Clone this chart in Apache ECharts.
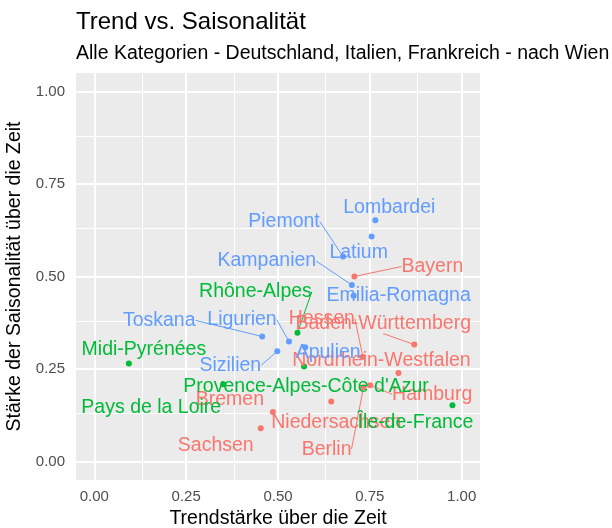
<!DOCTYPE html>
<html>
<head>
<meta charset="utf-8">
<script src="https://cdn.jsdelivr.net/npm/echarts@6/dist/echarts.min.js"></script>
<style>
  html, body { margin: 0; padding: 0; background: #fff; }
  #chart { width: 612px; height: 528px; }
</style>
</head>
<body>
<div id="chart"></div>
<script>
// Daten: Trendstärke (x) und Saisonalitätsstärke (y) je Region
const deRegions = ['Bayern', 'Hessen', 'Baden-Württemberg', 'Nordrhein-Westfalen', 'Hamburg', 'Berlin', 'Niedersachsen', 'Bremen', 'Sachsen'];
const deTrend   = [0.708, 0.731, 0.871, 0.828, 0.751, 0.733, 0.645, 0.486, 0.453];
const deSeason  = [0.500, 0.283, 0.316, 0.239, 0.206, 0.201, 0.162, 0.134, 0.090];

const frRegions = ['Rhône-Alpes', 'Midi-Pyrénées', "Provence-Alpes-Côte d'Azur", 'Pays de la Loire', 'Île-de-France'];
const frTrend   = [0.553, 0.094, 0.571, 0.351, 0.975];
const frSeason  = [0.348, 0.265, 0.257, 0.209, 0.152];

const itRegions = ['Lombardei', 'Latium', 'Piemont', 'Kampanien', 'Emilia-Romagna', 'Toskana', 'Ligurien', 'Apulien', 'Sizilien'];
const itTrend   = [0.765, 0.755, 0.677, 0.701, 0.706, 0.457, 0.530, 0.574, 0.498];
const itSeason  = [0.652, 0.608, 0.554, 0.477, 0.448, 0.338, 0.324, 0.309, 0.298];

const majorTicks = [0, 0.25, 0.5, 0.75, 1];
const minorTicks = [0.125, 0.375, 0.625, 0.875];

// Labelpositionen (wie ggrepel): Versatz in px vom Punkt, mit/ohne Linie
const labelPos = {
  'Lombardei': [14, -13, false],
  'Latium': [-13, 16, false],
  'Piemont': [-59, -35, true],
  'Kampanien': [-85, -24, true],
  'Emilia-Romagna': [45, 0, false],
  'Toskana': [-103, -16, true],
  'Ligurien': [-47, -22, true],
  'Apulien': [23, 5, false],
  'Sizilien': [-47, 14, true],
  'Rhône-Alpes': [-42, -41, true],
  'Midi-Pyrénées': [15, -14, false],
  "Provence-Alpes-Côte d'Azur": [2, 20, false],
  'Pays de la Loire': [-72, 23, false],
  'Île-de-France': [-37, 17, false],
  'Bayern': [78, -10, true],
  'Hessen': [-41, -38, true],
  'Baden-Württemberg': [-31, -21, true],
  'Nordrhein-Westfalen': [-17, -12, false],
  'Hamburg': [62, 9, true],
  'Berlin': [-37, 62, true],
  'Niedersachsen': [5, 21, false],
  'Bremen': [-43, -12, false],
  'Sachsen': [-45, 17, false]
};

const FONT = "'Liberation Sans', Arial, sans-serif";

function makeSeries(name, color, regions, trend, season) {
  return {
    name: name,
    type: 'scatter',
    symbolSize: 6,
    itemStyle: { color: color, opacity: 1 },
    z: 3,
    label: {
      show: true,
      position: 'inside',
      formatter: '{b}',
      color: color,
      fontSize: 19.5,
      fontFamily: FONT
    },
    labelLine: { show: false, lineStyle: { color: color, width: 1 } },
    labelLayout: function (params) {
      const p = labelPos[regions[params.dataIndex]];
      return { dx: p[0], dy: p[1] };
    },
    data: regions.map(function (r, i) {
      return { name: r, value: [trend[i], season[i]], labelLine: { show: labelPos[r][2] } };
    })
  };
}

const gridLines = [];
majorTicks.forEach(function (v) {
  gridLines.push({ xAxis: v, lineStyle: { width: 2 } });
  gridLines.push({ yAxis: v, lineStyle: { width: 2 } });
});
minorTicks.forEach(function (v) {
  gridLines.push({ xAxis: v, lineStyle: { width: 1 } });
  gridLines.push({ yAxis: v, lineStyle: { width: 1 } });
});

const chart = echarts.init(document.getElementById('chart'));
chart.setOption({
  animation: false,
  textStyle: { fontFamily: FONT },
  title: [
    { text: 'Trend vs. Saisonalität', left: 76, top: 10, padding: 0,
      textStyle: { fontSize: 24, fontWeight: 'normal', color: '#000', fontFamily: FONT } },
    { text: 'Alle Kategorien - Deutschland, Italien, Frankreich - nach Wien', left: 76, top: 44, padding: 0,
      textStyle: { fontSize: 19.5, fontWeight: 'normal', color: '#000', fontFamily: FONT } }
  ],
  grid: {
    left: 76, right: 132, top: 73, bottom: 48,
    outerBoundsMode: 'none',
    containLabel: false,
    show: true, backgroundColor: '#EBEBEB', borderWidth: 0
  },
  xAxis: {
    type: 'value', min: -0.05, max: 1.05,
    name: 'Trendstärke über die Zeit', nameLocation: 'middle', nameGap: 29,
    nameTextStyle: { fontSize: 19.5, color: '#000', fontFamily: FONT },
    axisLine: { show: false },
    axisTick: { show: true, length: 5, customValues: majorTicks, lineStyle: { color: '#333', width: 1 } },
    axisLabel: { customValues: majorTicks, margin: 9, fontSize: 15, color: '#4D4D4D', fontFamily: FONT,
      formatter: function (v) { return v.toFixed(2); } },
    splitLine: { show: false }
  },
  yAxis: {
    type: 'value', min: -0.05, max: 1.05,
    name: 'Stärke der Saisonalität über die Zeit', nameLocation: 'middle', nameGap: 42,
    nameTextStyle: { fontSize: 19.5, color: '#000', fontFamily: FONT },
    axisLine: { show: false },
    axisTick: { show: true, length: 5, customValues: majorTicks, lineStyle: { color: '#333', width: 1 } },
    axisLabel: { customValues: majorTicks, margin: 11, fontSize: 15, color: '#4D4D4D', fontFamily: FONT,
      formatter: function (v) { return v.toFixed(2); } },
    splitLine: { show: false }
  },
  series: [
    {
      name: 'grid',
      type: 'scatter',
      z: 1,
      silent: true,
      data: [],
      markLine: {
        z: 1,
        silent: true,
        symbol: ['none', 'none'],
        label: { show: false },
        lineStyle: { color: '#FFFFFF', type: 'solid' },
        emphasis: { disabled: true },
        data: gridLines
      }
    },
    makeSeries('Deutschland', '#F8766D', deRegions, deTrend, deSeason),
    makeSeries('Frankreich', '#00BA38', frRegions, frTrend, frSeason),
    makeSeries('Italien', '#619CFF', itRegions, itTrend, itSeason)
  ]
});
</script>
</body>
</html>
